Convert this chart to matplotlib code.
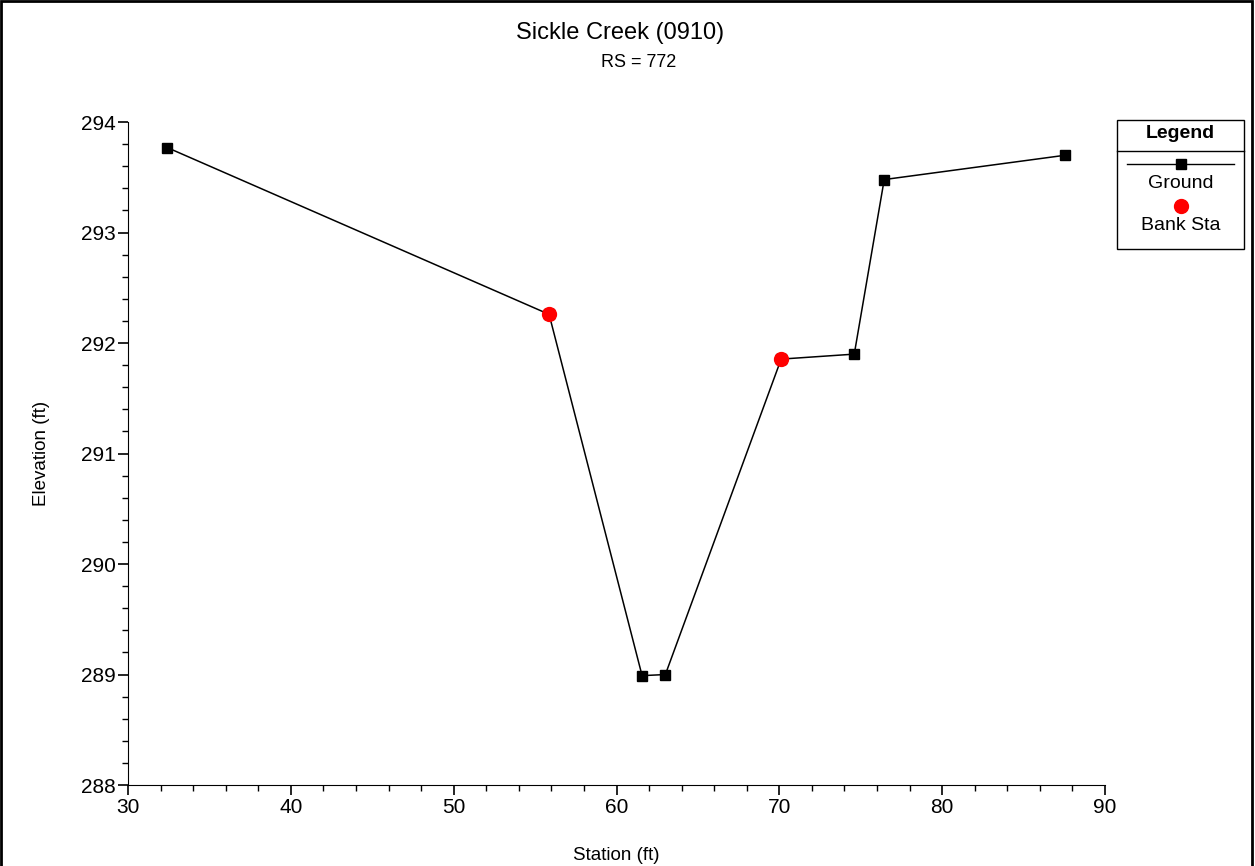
import matplotlib.pyplot as plt
from matplotlib.lines import Line2D
from matplotlib.patches import Rectangle
from matplotlib.ticker import MultipleLocator

plt.rcParams['font.family'] = ['Liberation Sans', 'DejaVu Sans']

# ground profile
station = [32.4, 55.86, 61.57, 63.0, 70.11, 74.6, 76.44, 87.55]
elevation = [293.77, 292.26, 288.99, 289.0, 291.855, 291.9, 293.48, 293.7]

# bank stations
bank_sta = [55.86, 70.11]
bank_elev = [292.26, 291.855]

fig = plt.figure(figsize=(12.55, 8.66), dpi=100)
ax = fig.add_axes([0.102, 0.0935, 0.7785, 0.7655])

ax.plot(station, elevation, color='black', lw=1.1, marker='s', ms=6.5, zorder=2)
ax.plot(bank_sta, bank_elev, ls='none', marker='o', color='red', ms=10, zorder=3)

ax.set_xlim(30, 90)
ax.set_ylim(288, 294)
ax.xaxis.set_major_locator(MultipleLocator(10))
ax.xaxis.set_minor_locator(MultipleLocator(2))
ax.yaxis.set_major_locator(MultipleLocator(1))
ax.yaxis.set_minor_locator(MultipleLocator(0.2))
ax.spines['top'].set_visible(False)
ax.spines['right'].set_visible(False)
ax.tick_params(which='major', length=7, width=1.2, labelsize=15, direction='out', pad=2)
ax.tick_params(which='minor', length=4, width=1, direction='out')
ax.set_xlabel('Station (ft)', fontsize=13.5, labelpad=22)
ax.set_ylabel('Elevation (ft)', fontsize=13.5, labelpad=22)

fig.text(0.494, 0.962, 'Sickle Creek (0910)', ha='center', va='center', fontsize=17)
fig.text(0.509, 0.928, 'RS = 772', ha='center', va='center', fontsize=13)

# legend box drawn by hand
lx0, lx1 = 1117 / 1255, 1244 / 1255
ly0, ly1 = 1 - 249 / 866, 1 - 120 / 866
fig.add_artist(Rectangle((lx0, ly0), lx1 - lx0, ly1 - ly0, transform=fig.transFigure,
                         fill=False, ec='black', lw=1))
sep = 1 - 151 / 866
fig.add_artist(Line2D([lx0, lx1], [sep, sep], transform=fig.transFigure, color='black', lw=1))
cx = (lx0 + lx1) / 2
fig.text(cx, 1 - 134 / 866, 'Legend', ha='center', va='center', fontsize=14, fontweight='bold')
fig.add_artist(Line2D([1127 / 1255, 1234 / 1255], [1 - 164 / 866] * 2, transform=fig.transFigure,
                      color='black', lw=1))
fig.add_artist(Line2D([cx], [1 - 164 / 866], transform=fig.transFigure, color='black',
                      marker='s', ms=6.5, ls='none'))
fig.text(cx, 1 - 183 / 866, 'Ground', ha='center', va='center', fontsize=14)
fig.add_artist(Line2D([cx], [1 - 206 / 866], transform=fig.transFigure, color='red',
                      marker='o', ms=10, ls='none'))
fig.text(cx, 1 - 225 / 866, 'Bank Sta', ha='center', va='center', fontsize=14)

# outer frame
fig.add_artist(Rectangle((0.001, -0.01), 0.997, 1.009, transform=fig.transFigure,
                         fill=False, ec='black', lw=2))

fig.savefig('out.png', dpi=100)
